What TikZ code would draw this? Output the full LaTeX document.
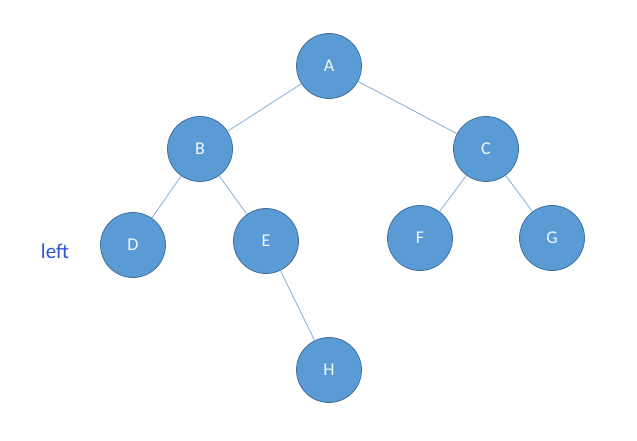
\documentclass[tikz,border=0pt]{standalone}
\usepackage{fontspec}
\setmainfont{Carlito}
\usepackage{tikz}
\usetikzlibrary{positioning}

\definecolor{nodefill}{HTML}{5B9BD5}
\definecolor{nodeline}{HTML}{41719C}
\definecolor{edgeline}{HTML}{8FB4DA}
\definecolor{labelblue}{HTML}{2F55D4}

\begin{document}
\begin{tikzpicture}[x=1pt, y=-1pt,
    treenode/.style={draw=nodeline, fill=nodefill, circle, minimum size=65pt, inner sep=0pt, line width=0.8pt, text=white!92!nodefill, font=\fontsize{18}{20}\selectfont},
    edge/.style={draw=edgeline, line width=0.9pt}]
        \useasboundingbox (0,0) rectangle (637,441);
        % Tree nodes
        \node[treenode] (a) at (329,66) {A};
        \node[treenode] (b) at (200,149) {B};
        \node[treenode] (c) at (486,149) {C};
        \node[treenode] (d) at (133,245) {D};
        \node[treenode] (e) at (266,241) {E};
        \node[treenode] (f) at (420,238) {F};
        \node[treenode] (g) at (552,238) {G};
        \node[treenode] (h) at (329,370) {H};
        \node[text=labelblue, font=\fontsize{21}{23}\selectfont] (left) at (55,251) {left};

        \draw[edge] (a) -- (b);
        \draw[edge] (a) -- (c);
        \draw[edge] (b) -- (d);
        \draw[edge] (b) -- (e);
        \draw[edge] (c) -- (f);
        \draw[edge] (c) -- (g);
        \draw[edge] (e) -- (h);
    \end{tikzpicture}
\end{document}
